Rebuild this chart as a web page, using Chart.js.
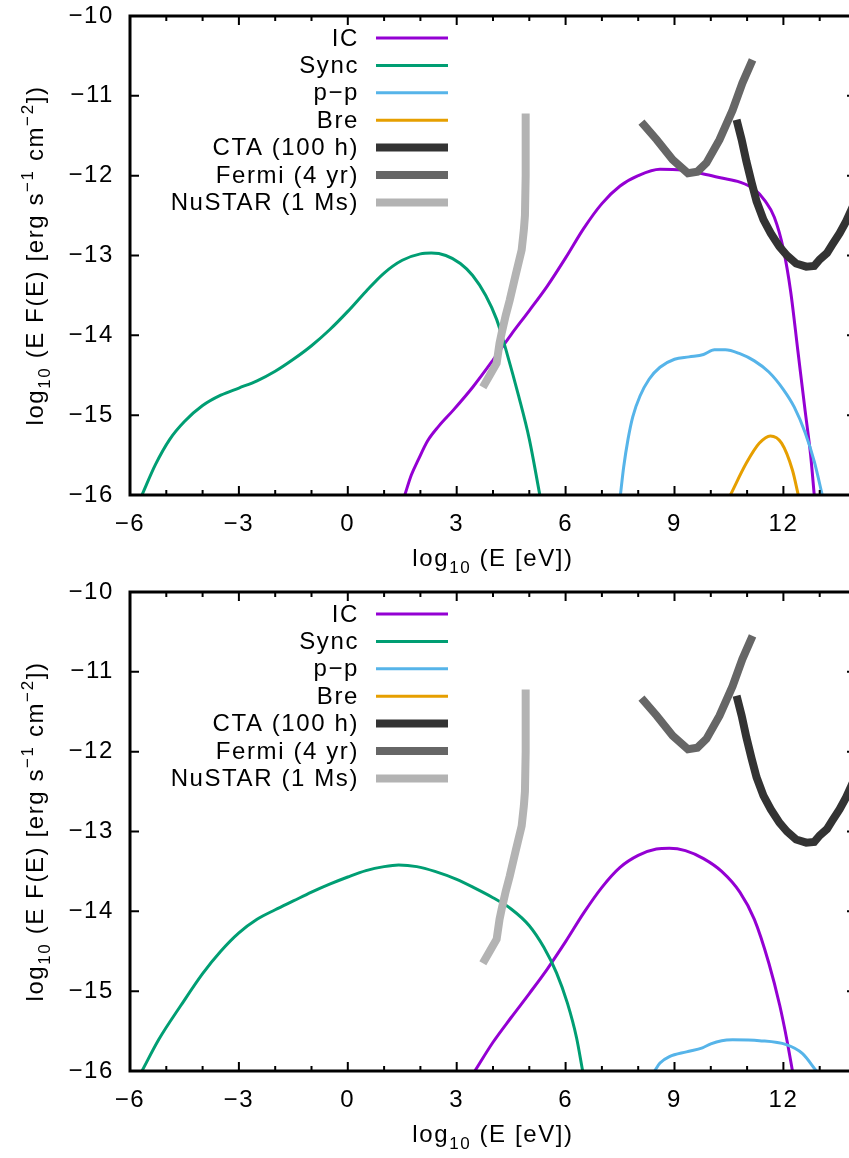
<!DOCTYPE html>
<html><head><meta charset="utf-8">
<script src="https://cdn.jsdelivr.net/npm/chart.js@4/dist/chart.umd.min.js"></script>
<style>
html,body{margin:0;padding:0;background:#fff;overflow:hidden;width:849px;height:1158px}
#wrap{position:relative;width:849px;height:1158px;overflow:hidden;background:#fff}
canvas{position:absolute;left:0}
#c1{top:0}
#c2{top:576px}
</style></head><body><div id="wrap"><canvas id="c1" width="870" height="576"></canvas><canvas id="c2" width="870" height="582"></canvas></div>
<script>
// ---------- axes ----------
const X_MIN = -6, X_MAX = 14, Y_MIN = -16, Y_MAX = -10;
const xTickVals = [-6, -3, 0, 3, 6, 9, 12];
const yTickVals = [-16, -15, -14, -13, -12, -11, -10];
const xTitle = [{t:'log'},{t:'10',sub:true},{t:' (E [eV])'}];
const yTitle = [{t:'log'},{t:'10',sub:true},{t:' (E F(E) [erg s'},{t:'\u22121',sup:true},{t:' cm'},{t:'\u22122',sup:true},{t:'])'}];

// ---------- series labels / colours ----------
const seriesLabels = ['IC', 'Sync', 'p\u2212p', 'Bre', 'CTA (100 h)', 'Fermi (4 yr)', 'NuSTAR (1 Ms)'];
const seriesColors = ['#9400d3', '#009e73', '#56b4e9', '#e69f00', '#333333', '#666666', '#b3b3b3'];

// ---------- sensitivity curves (same in both panels) ----------
const ctaX = [10.71, 10.85, 10.98, 11.12, 11.26, 11.45, 11.65, 11.89, 12.1, 12.35, 12.63, 12.85, 13.0, 13.2, 13.35, 13.55, 13.73, 14.0];
const ctaY = [-11.30, -11.55, -11.82, -12.08, -12.32, -12.55, -12.72, -12.89, -13.0, -13.10, -13.14, -13.13, -13.05, -12.97, -12.86, -12.72, -12.57, -12.3];
const fermiX = [8.09, 8.51, 8.95, 9.37, 9.63, 9.88, 10.24, 10.6, 10.87, 11.15];
const fermiY = [-11.33, -11.55, -11.80, -11.97, -11.95, -11.84, -11.55, -11.18, -10.84, -10.55];
const nustarX = [4.90, 4.90, 4.88, 4.85, 4.79, 4.62, 4.46, 4.35, 4.24, 4.18, 4.10, 3.91, 3.72];
const nustarY = [-11.22, -12.0, -12.5, -12.68, -12.93, -13.25, -13.56, -13.75, -13.97, -14.1, -14.35, -14.5, -14.65];

// ---------- top panel models ----------
const icTopX = [1.57, 1.75, 1.95, 2.2, 2.5, 2.9, 3.44, 4.0, 4.5, 5.0, 5.5, 6.0, 6.5, 7.0, 7.5, 8.0, 8.6, 9.2, 9.8, 10.3, 10.8, 11.2, 11.5, 11.75, 12.0, 12.2, 12.4, 12.6, 12.75, 12.85];
const icTopY = [-16.0, -15.75, -15.55, -15.32, -15.14, -14.94, -14.65, -14.31, -13.99, -13.69, -13.38, -13.03, -12.66, -12.35, -12.13, -12.0, -11.92, -11.93, -11.98, -12.03, -12.08, -12.17, -12.32, -12.52, -12.92, -13.45, -14.2, -14.95, -15.5, -16.0];
const syncTopX = [-5.67, -5.3, -4.9, -4.5, -4.0, -3.5, -3.0, -2.5, -2.0, -1.5, -1.0, -0.5, 0.0, 0.5, 1.0, 1.5, 2.0, 2.3, 2.7, 3.1, 3.44, 3.8, 4.1, 4.4, 4.7, 5.0, 5.29];
const syncTopY = [-16.0, -15.62, -15.3, -15.08, -14.88, -14.75, -14.66, -14.57, -14.45, -14.3, -14.13, -13.93, -13.7, -13.45, -13.22, -13.06, -12.98, -12.97, -13.0, -13.1, -13.25, -13.5, -13.8, -14.25, -14.75, -15.3, -16.0];
const ppTopX = [7.51, 7.6, 7.72, 7.85, 8.05, 8.3, 8.6, 9.0, 9.4, 9.8, 10.1, 10.4, 10.8, 11.2, 11.6, 12.0, 12.3, 12.6, 12.85, 13.07];
const ppTopY = [-16.0, -15.65, -15.3, -15.02, -14.76, -14.55, -14.4, -14.3, -14.27, -14.24, -14.18, -14.18, -14.23, -14.32, -14.46, -14.68, -14.9, -15.22, -15.58, -16.0];
const breTopX = [10.54, 10.98, 11.34, 11.64, 11.95, 12.25, 12.41];
const breTopY = [-16.0, -15.6, -15.35, -15.26, -15.35, -15.69, -16.0];

// ---------- bottom panel models ----------
const icBotX = [3.50, 4.0, 4.5, 5.0, 5.5, 6.0, 6.5, 7.0, 7.5, 8.0, 8.5, 8.86, 9.3, 9.8, 10.3, 10.8, 11.2, 11.6, 11.9, 12.1, 12.25];
const icBotY = [-16.0, -15.64, -15.33, -15.03, -14.72, -14.38, -14.02, -13.7, -13.45, -13.3, -13.22, -13.21, -13.24, -13.34, -13.5, -13.76, -14.1, -14.65, -15.18, -15.62, -16.0];
const syncBotX = [-5.67, -5.2, -4.6, -4.0, -3.5, -3.0, -2.5, -2.0, -1.5, -1.0, -0.5, 0.0, 0.5, 1.0, 1.4, 1.9, 2.4, 3.0, 3.5, 4.0, 4.5, 5.0, 5.4, 5.75, 6.05, 6.3, 6.47];
const syncBotY = [-16.0, -15.6, -15.18, -14.78, -14.5, -14.27, -14.1, -13.98, -13.87, -13.76, -13.66, -13.57, -13.49, -13.44, -13.42, -13.44, -13.5, -13.6, -13.71, -13.83, -13.97, -14.18, -14.45, -14.77, -15.15, -15.58, -16.0];
const ppBotX = [8.45, 8.6, 8.86, 9.33, 9.77, 10.0, 10.3, 10.6, 11.34, 12.08, 12.52, 12.91];
const ppBotY = [-16.0, -15.9, -15.82, -15.76, -15.71, -15.66, -15.62, -15.61, -15.62, -15.67, -15.78, -16.0];
const breBotX = [];
const breBotY = [];

// ---------- helpers ----------
const FONT_FAMILY = "'Liberation Sans', Arial, Helvetica, sans-serif";
const FONT_SIZE = 24;
const LETTER_SPACING = '1.6px';
Chart.defaults.font.family = FONT_FAMILY;
Chart.defaults.font.size = FONT_SIZE;
Chart.defaults.color = '#000';

function pts(xs, ys) { return xs.map((x, i) => ({x: x, y: ys[i]})); }
function fmt(v) { return v < 0 ? '\u2212' + Math.abs(v) : String(v); }

function makeDatasets(panel) {
  const models = [panel.ic, panel.sync, panel.pp, panel.bre];
  const instr = [[ctaX, ctaY], [fermiX, fermiY], [nustarX, nustarY]];
  const ds = [];
  models.forEach((m, i) => ds.push({
    label: seriesLabels[i], data: pts(m[0], m[1]), borderColor: seriesColors[i], backgroundColor: seriesColors[i],
    borderWidth: 3, pointRadius: 0, fill: false, cubicInterpolationMode: 'monotone', clip: 0, order: 10 - i
  }));
  instr.forEach((m, j) => ds.push({
    label: seriesLabels[4 + j], data: pts(m[0], m[1]), borderColor: seriesColors[4 + j], backgroundColor: seriesColors[4 + j],
    borderWidth: 8, pointRadius: 0, fill: false, tension: 0, clip: 0, order: 5 - j
  }));
  return ds;
}

function measureRich(ctx, segs, size) {
  let w = 0;
  const parts = segs.map(s => {
    const fs = (s.sub || s.sup) ? Math.round(size * 0.7) : size;
    ctx.font = fs + 'px ' + FONT_FAMILY;
    const mw = ctx.measureText(s.t).width;
    const dy = s.sub ? size * 0.3 : (s.sup ? -size * 0.42 : 0);
    const p = {t: s.t, fs: fs, dy: dy, x: w};
    w += mw;
    return p;
  });
  return {w: w, parts: parts};
}
function paintRich(ctx, segs, size, cx, baseY) {
  const r = measureRich(ctx, segs, size);
  const x0 = cx - r.w / 2;
  ctx.textAlign = 'left';
  ctx.textBaseline = 'alphabetic';
  r.parts.forEach(p => {
    ctx.font = p.fs + 'px ' + FONT_FAMILY;
    ctx.fillText(p.t, x0 + p.x, baseY + p.dy);
  });
}

const gnuPlugin = {
  id: 'gnuframe',
  beforeDraw(chart) { chart.ctx.letterSpacing = LETTER_SPACING; },
  afterDatasetsDraw(chart) {
    const ctx = chart.ctx, a = chart.chartArea, xs = chart.scales.x, ys = chart.scales.y;
    ctx.save();
    ctx.strokeStyle = '#000';
    ctx.lineWidth = 2;
    ctx.beginPath();
    for (let v = Math.ceil(X_MIN); v <= X_MAX; v++) {
      const px = xs.getPixelForValue(v);
      const len = (v % 3 === 0) ? 9 : 5;
      ctx.moveTo(px, a.bottom); ctx.lineTo(px, a.bottom - len);
      ctx.moveTo(px, a.top); ctx.lineTo(px, a.top + len);
    }
    yTickVals.forEach(v => {
      const py = ys.getPixelForValue(v);
      ctx.moveTo(a.left, py); ctx.lineTo(a.left + 9, py);
      ctx.moveTo(a.right, py); ctx.lineTo(a.right - 9, py);
    });
    ctx.stroke();
    ctx.lineWidth = 3;
    ctx.strokeRect(a.left, a.top, a.right - a.left, a.bottom - a.top);
    ctx.restore();
  },
  afterDraw(chart) {
    const ctx = chart.ctx, a = chart.chartArea;
    ctx.save();
    ctx.letterSpacing = LETTER_SPACING;
    ctx.fillStyle = '#000';
    // legend
    const textRight = a.left + 229, lineL = a.left + 246, lineR = a.left + 318;
    chart.data.datasets.forEach((d, i) => {
      const yy = a.top + 22 + i * 27.4;
      ctx.font = FONT_SIZE + 'px ' + FONT_FAMILY;
      ctx.textAlign = 'right';
      ctx.textBaseline = 'middle';
      ctx.fillText(d.label, textRight, yy + 1);
      ctx.strokeStyle = d.borderColor;
      ctx.lineWidth = d.borderWidth;
      ctx.lineCap = 'butt';
      ctx.beginPath(); ctx.moveTo(lineL, yy); ctx.lineTo(lineR, yy); ctx.stroke();
    });
    // x title
    paintRich(ctx, xTitle, FONT_SIZE, (a.left + a.right) / 2, a.bottom + 71);
    // y title
    ctx.save();
    ctx.translate(43, (a.top + a.bottom) / 2);
    ctx.rotate(-Math.PI / 2);
    paintRich(ctx, yTitle, FONT_SIZE, 0, 0);
    ctx.restore();
    ctx.restore();
  }
};

function makeChart(id, panel) {
  const cv = document.getElementById(id);
  const W = cv.width, H = cv.height;
  return new Chart(cv, {
    type: 'line',
    data: {datasets: makeDatasets(panel)},
    plugins: [gnuPlugin],
    options: {
      responsive: false, animation: false, devicePixelRatio: 1, maintainAspectRatio: false,
      layout: {padding: {left: 0, right: W - 856, top: 16, bottom: 0}},
      plugins: {legend: {display: false}, tooltip: {enabled: false}, title: {display: false}},
      scales: {
        x: {
          type: 'linear', min: X_MIN, max: X_MAX,
          grid: {display: false, drawTicks: false}, border: {display: false},
          ticks: {padding: 15, maxRotation: 0, autoSkip: false, callback: v => fmt(v)},
          afterBuildTicks: s => { s.ticks = xTickVals.map(v => ({value: v})); },
          afterFit: s => { s.height = H - 16 - 479; s.paddingLeft = 0; s.paddingRight = 0; }
        },
        y: {
          type: 'linear', min: Y_MIN, max: Y_MAX,
          grid: {display: false, drawTicks: false}, border: {display: false},
          ticks: {padding: 16, autoSkip: false, callback: v => fmt(v)},
          afterBuildTicks: s => { s.ticks = yTickVals.map(v => ({value: v})); },
          afterFit: s => { s.width = 130; s.paddingTop = 0; s.paddingBottom = 0; }
        }
      }
    }
  });
}

makeChart('c1', {ic: [icTopX, icTopY], sync: [syncTopX, syncTopY], pp: [ppTopX, ppTopY], bre: [breTopX, breTopY]});
makeChart('c2', {ic: [icBotX, icBotY], sync: [syncBotX, syncBotY], pp: [ppBotX, ppBotY], bre: [breBotX, breBotY]});
</script></body></html>
